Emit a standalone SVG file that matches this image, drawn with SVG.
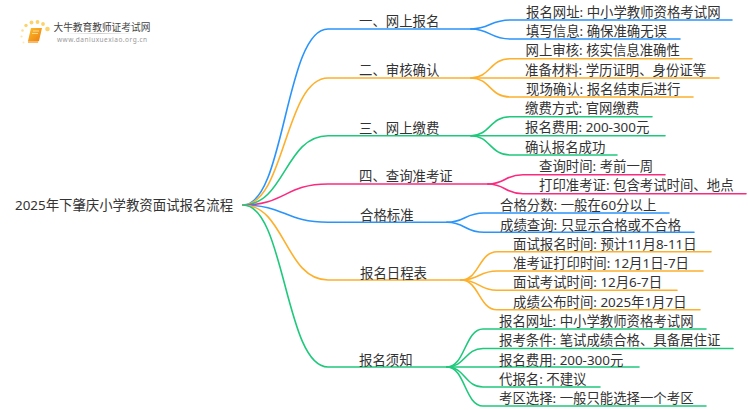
<svg xmlns="http://www.w3.org/2000/svg" width="750" height="410" viewBox="0 0 750 410">
<style>
text{font-family:"Noto Sans","Noto Sans CJK SC",sans-serif;font-size:13.4px;fill:#333}
.c path{fill:none;stroke-width:1.6;stroke-linecap:round}
.b path{stroke:#2a94fb}.o path{stroke:#fdb02c}.g path{stroke:#1fc97c}.p path{stroke:#fb2a7f}
</style>
<defs>
<linearGradient id="bk" x1="0" y1="0" x2="1" y2="1"><stop offset="0" stop-color="#fbc02a"/><stop offset="1" stop-color="#ee7d10"/></linearGradient>
<linearGradient id="rule" x1="0" x2="1" y1="0" y2="0"><stop offset="0" stop-color="#ddd" stop-opacity="0"/><stop offset=".5" stop-color="#ccc"/><stop offset="1" stop-color="#ddd" stop-opacity="0"/></linearGradient>
</defs>
<rect width="750" height="410" fill="#fff"/>
<g id="logo">
<g fill="#fcd36a"><circle cx="47.500" cy="29" r="2.300"/><circle cx="43" cy="24" r="1.900"/><circle cx="37.500" cy="22" r="1.900"/><circle cx="31.500" cy="22.500" r="1.900"/><circle cx="26" cy="25.500" r="1.700"/><circle cx="22.500" cy="30.500" r="1.300" opacity=".7"/><circle cx="21.500" cy="36.500" r="1.100" opacity=".6"/><circle cx="23.500" cy="42.500" r="1" opacity=".5"/></g>
<path d="M31 28H42L39 41H28Z" fill="url(#bk)"/><path d="M28 41H38.500L38 43H28Z" fill="#f9b96b"/><path d="M33 31H39M32 33.500H38" stroke="#fff0c0" stroke-width=".7"/>
<text x="53.500" y="31" style="font-size:9.700px;fill:#444">大牛教育教师证考试网</text>
<rect x="62" y="33" width="75" height="1" fill="url(#rule)"/>
<text x="57" y="41.500" style="font-size:6.500px;letter-spacing:.5px;fill:#999">www.daniuxuexiao.org.cn</text>
</g>
<g id="connectors" class="c">
<g class="b"><path d="M243 205C285 205 285 29 328 29H471"/><path d="M471 29C490 29 490 20 510 20H732"/><path d="M471 29C490 29 490 39 510 39H680"/></g>
<g class="o"><path d="M243 205C285 205 285 78 328 78H471"/><path d="M471 78C490 78 490 58.700 510 58.700H692"/><path d="M471 78H719"/><path d="M471 78C490 78 490 97 510 97H693"/></g>
<g class="g"><path d="M243 205C285 205 285 135.700 328 135.700H471"/><path d="M471 135.700C490 135.700 490 116.700 510 116.700H652"/><path d="M471 135.700H665"/><path d="M471 135.700C490 135.700 490 155 510 155H617"/></g>
<g class="p"><path d="M243 205C285 205 285 184 328 184H488"/><path d="M488 184C505 184 505 174.700 523 174.700H665"/><path d="M488 184C505 184 505 193.700 523 193.700H746"/></g>
<g class="b"><path d="M243 205C285 205 285 222.300 328 222.300H447"/><path d="M447 222.300C465 222.300 465 213 484 213H669"/><path d="M447 222.300C465 222.300 465 232.300 484 232.300H694"/></g>
<g class="o"><path d="M243 205C285 205 285 280 328 280H461"/><path d="M461 280C479 280 479 251.700 497 251.700H711"/><path d="M461 280C479 280 479 271 497 271H703"/><path d="M461 280C479 280 479 290.300 497 290.300H677"/><path d="M461 280C479 280 479 309.700 497 309.700H700"/></g>
<g class="g"><path d="M243 205C285 205 285 367 328 367H447"/><path d="M447 367C465 367 465 329 483 329H706"/><path d="M447 367C465 367 465 348.500 483 348.500H733"/><path d="M447 367H639"/><path d="M447 367C465 367 465 387 483 387H600"/><path d="M447 367C465 367 465 406 483 406H706"/></g>
</g>
<g id="root"><text x="15" y="209.500">2025年下肇庆小学教资面试报名流程</text></g>
<g id="n1"><text x="359" y="26">一、网上报名</text></g>
<g id="n1a"><text x="526" y="16.500">报名网址: 中小学教师资格考试网</text></g>
<g id="n1b"><text x="526" y="36">填写信息: 确保准确无误</text></g>
<g id="n2"><text x="359" y="74.500">二、审核确认</text></g>
<g id="n2a"><text x="525.500" y="55">网上审核: 核实信息准确性</text></g>
<g id="n2b"><text x="525" y="74.500">准备材料: 学历证明、身份证等</text></g>
<g id="n2c"><text x="526" y="93.500">现场确认: 报名结束后进行</text></g>
<g id="n3"><text x="359" y="132.500">三、网上缴费</text></g>
<g id="n3a"><text x="525" y="113">缴费方式: 官网缴费</text></g>
<g id="n3b"><text x="525" y="132">报名费用: 200-300元</text></g>
<g id="n3c"><text x="525" y="151.500">确认报名成功</text></g>
<g id="n4"><text x="359" y="181">四、查询准考证</text></g>
<g id="n4a"><text x="539" y="171">查询时间: 考前一周</text></g>
<g id="n4b"><text x="539" y="190">打印准考证: 包含考试时间、地点</text></g>
<g id="n5"><text x="360" y="219.500">合格标准</text></g>
<g id="n5a"><text x="500" y="210">合格分数: 一般在60分以上</text></g>
<g id="n5b"><text x="500" y="229.500">成绩查询: 只显示合格或不合格</text></g>
<g id="n6"><text x="360" y="278">报名日程表</text></g>
<g id="n6a"><text x="513" y="248.500">面试报名时间: 预计11月8-11日</text></g>
<g id="n6b"><text x="513" y="268">准考证打印时间: 12月1日-7日</text></g>
<g id="n6c"><text x="513" y="287">面试考试时间: 12月6-7日</text></g>
<g id="n6d"><text x="513" y="306.500">成绩公布时间: 2025年1月7日</text></g>
<g id="n7"><text x="359" y="365">报名须知</text></g>
<g id="n7a"><text x="499" y="326">报名网址: 中小学教师资格考试网</text></g>
<g id="n7b"><text x="499" y="345">报考条件: 笔试成绩合格、具备居住证</text></g>
<g id="n7c"><text x="499" y="364.500">报名费用: 200-300元</text></g>
<g id="n7d"><text x="499" y="384">代报名: 不建议</text></g>
<g id="n7e"><text x="499" y="403">考区选择: 一般只能选择一个考区</text></g>
</svg>
